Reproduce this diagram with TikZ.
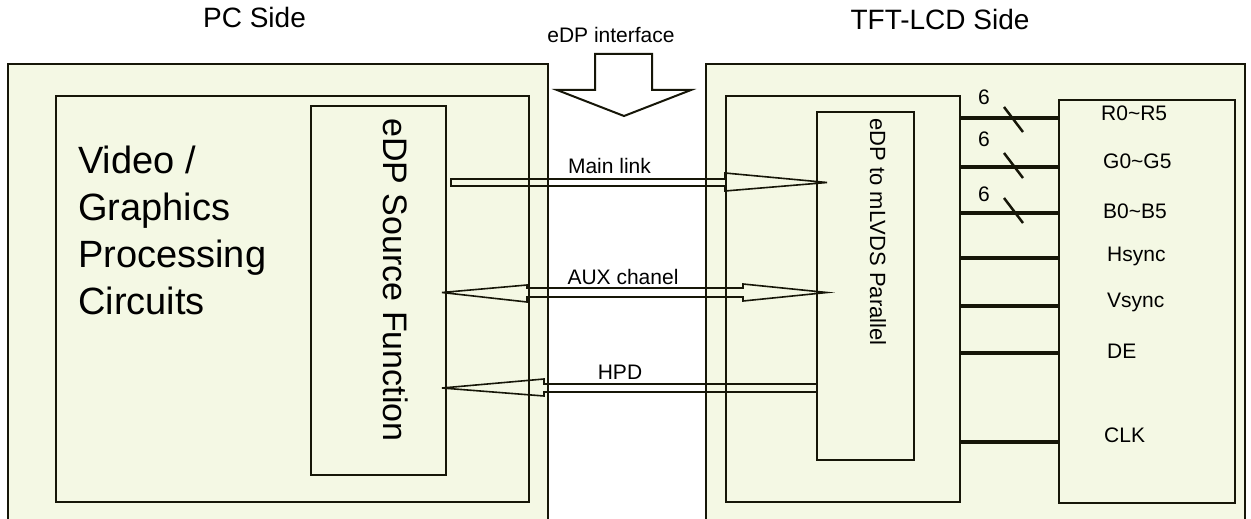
\documentclass[tikz,border=0pt]{standalone}
\usepackage{fontspec}
\setmainfont{Liberation Sans}
\definecolor{panelfill}{RGB}{244,248,228}
\definecolor{edge}{RGB}{22,22,8}

\begin{document}
\begin{tikzpicture}[
        x = 1pt, y = -1pt, % one unit per pixel, y grows downwards
        box/.style = {draw = edge, fill = panelfill, line width = 2pt,
            inner sep = 0pt, anchor = north west},
        sig/.style = {draw = edge, line width = 3.5pt}, % parallel signal wire
        hollow/.style = {draw = edge, line width = 1.6pt}, % outlined link arrow
        lbl/.style = {font = \fontsize{21}{25}\selectfont, inner sep = 0pt, anchor = base}
    ]

        \clip (0,0) rectangle (1251,519);
        \fill[white] (0,0) rectangle (1251,519);

        % PC side
        \node[box, minimum width=540pt, minimum height=480pt] (pc) at (7,63) {};
        \node[box, minimum width=473pt, minimum height=406pt] (gfx) at (55,95) {};
        \node[box, minimum width=135pt, minimum height=369pt] (src) at (310,105) {};

        % TFT-LCD side
        \node[box, minimum width=539pt, minimum height=480pt] (lcd) at (705,63) {};
        \node[box, minimum width=234pt, minimum height=406pt] (rx) at (725,95) {};
        \node[box, minimum width=97pt, minimum height=348pt] (conv) at (816,111) {};
        \node[box, minimum width=176pt, minimum height=403pt] (tcon) at (1058,99) {};

        % parallel outputs
        \foreach \y in {118,167,213,258,306,353,442}
            \draw[sig] (rx.east |- 0,\y) -- (tcon.west |- 0,\y);
        \foreach \y in {107,153,198}
            \draw[draw=edge, line width=2.5pt] (1004,\y) -- ++(19,25);

        % eDP interface arrow
        \coordinate (if-tip) at (624,116);
        \draw[draw=edge, line width=2pt] (if-tip) -- ++(-67,-26) -- ++(38,0) -- ++(0,-36)
            -- ++(57,0) -- ++(0,36) -- ++(39,0) -- cycle;

        % Main link
        \coordinate (ml-tail) at (451,182.5);
        \coordinate (ml-tip) at (827,182.5);
        \draw[hollow] (ml-tail) ++(0,-3.5) -- ++(274,0) -- ++(0,-6) -- (ml-tip)
            -- ++(-102,8.5) -- ++(0,-5) -- ++(-274,0) -- cycle;

        % AUX chanel
        \coordinate (aux-l) at (442,292.5);
        \coordinate (aux-r) at (827,292.5);
        \draw[hollow] (aux-l) -- ++(85,-7.5) -- ++(0,3) -- ++(216,0) -- ++(0,-4) -- (aux-r)
            -- ++(-84,8.5) -- ++(0,-4) -- ++(-216,0) -- ++(0,5) -- cycle;

        % HPD
        \coordinate (hpd-r) at (816,388);
        \coordinate (hpd-tip) at (442,388);
        \draw[hollow] (hpd-r) ++(0,-4) -- ++(-272,0) -- ++(0,-5) -- (hpd-tip)
            -- ++(102,8) -- ++(0,-4) -- ++(272,0);

        % texts
        \node[lbl, font=\fontsize{28}{32}\selectfont] (pc-t) at (254.5,28) {PC Side};
        \node[lbl, font=\fontsize{28}{32}\selectfont] (lcd-t) at (940,30) {TFT-LCD Side};
        \node[lbl] (if-t) at (611,43) {eDP interface};
        \node[lbl] (ml-t) at (609.5,173) {Main link};
        \node[lbl] (aux-t) at (623,284) {AUX chanel};
        \node[lbl] (hpd-t) at (620,379) {HPD};

        \node[anchor=north west, inner sep=0pt, align=left,
            font=\fontsize{38}{47}\selectfont] (gfx-t) at (78,145.5)
            {Video /\\Graphics\\Processing\\Circuits};
        \node[rotate=-90, font=\fontsize{34}{40}\selectfont] (src-t) at (396,280)
            {eDP Source Function};
        \node[rotate=-90, font=\fontsize{22}{26}\selectfont] (conv-t) at (878,232)
            {eDP to mLVDS Parallel};

        \node[lbl] (n-r) at (984,104) {6};
        \node[lbl] (n-g) at (984,146) {6};
        \node[lbl] (n-b) at (984,201) {6};

        \node[lbl, anchor=base west] (s-r) at (1101,121) {R0\textasciitilde R5};
        \node[lbl, anchor=base west] (s-g) at (1103,168) {G0\textasciitilde G5};
        \node[lbl, anchor=base west] (s-b) at (1103,218) {B0\textasciitilde B5};
        \node[lbl, anchor=base west] (s-h) at (1107,261) {Hsync};
        \node[lbl, anchor=base west] (s-v) at (1107,307) {Vsync};
        \node[lbl, anchor=base west] (s-de) at (1107,358) {DE};
        \node[lbl, anchor=base west] (s-clk) at (1104,442) {CLK};
    \end{tikzpicture}
\end{document}
